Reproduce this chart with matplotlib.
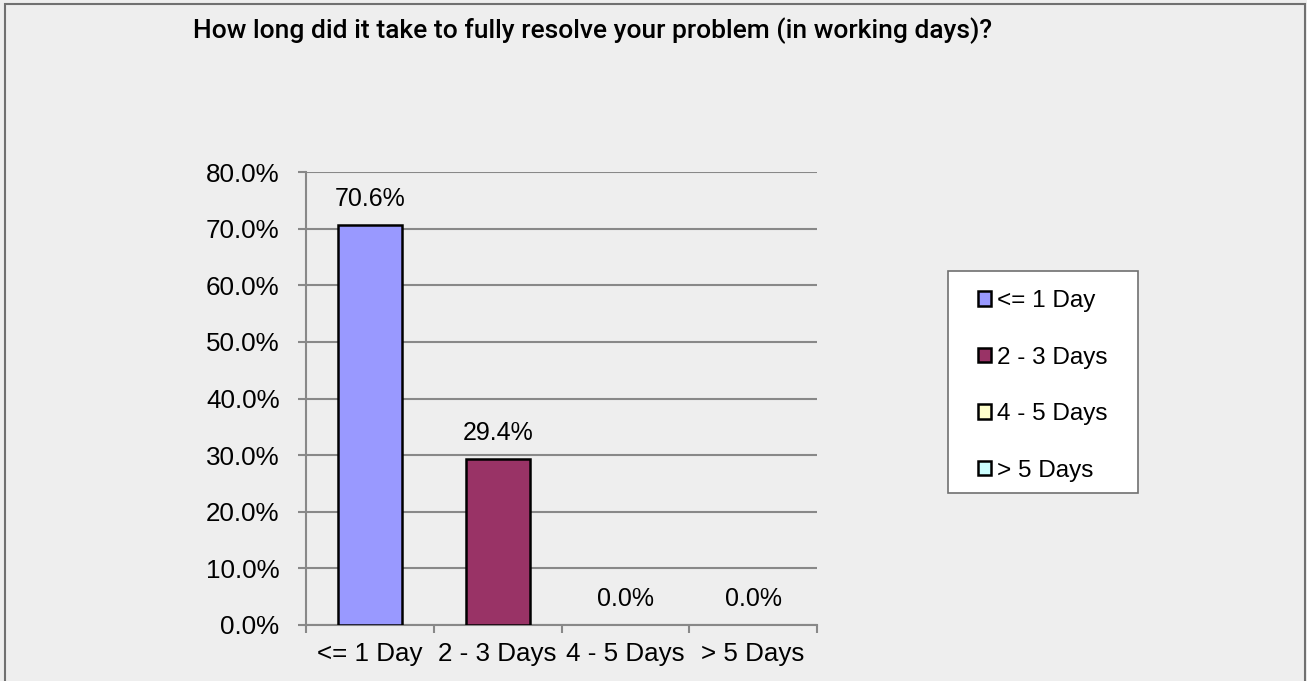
import matplotlib
matplotlib.use("Agg")
import matplotlib.pyplot as plt
from matplotlib.patches import Rectangle
from matplotlib.ticker import FuncFormatter

# survey answers
categories = ["<= 1 Day", "2 - 3 Days", "4 - 5 Days", "> 5 Days"]
shares = [0.706, 0.294, 0.0, 0.0]
colours = ["#9999FF", "#993366", "#FFFFCC", "#CCFFFF"]
yticks = [0.0, 0.1, 0.2, 0.3, 0.4, 0.5, 0.6, 0.7, 0.8]
title = "How long did it take to fully resolve your problem (in working days)?"

plt.rcParams['font.family'] = ['Liberation Sans', 'DejaVu Sans']

W, H = 1307, 681
fig = plt.figure(figsize=(W / 100, H / 100), dpi=100)
fig.patch.set_facecolor('#EEEEEE')

# outer frame
fig.patches.append(Rectangle((5/W, -0.01), 1300/W, 1 - 4/H + 0.01,
                             transform=fig.transFigure, fill=False,
                             edgecolor='#707070', lw=1.5, zorder=-1))
# legend box
fig.patches.append(Rectangle((948/W, 1 - 493/H), 190/W, 222/H,
                             transform=fig.transFigure, facecolor='white',
                             edgecolor='#707070', lw=1.2, zorder=-1))

ax = fig.add_axes([306/W, 1 - 625/H, 511/W, 453/H])
ax.set_facecolor('#EEEEEE')

bars = []
for i, (cat, val, col) in enumerate(zip(categories, shares, colours)):
    b = ax.bar(i, val, width=0.5, color=col, edgecolor='black', lw=1.8,
               label=cat, zorder=3)
    bars.append(b)
    ax.annotate("%.1f%%" % (val * 100), (i, val), xytext=(0, 10),
                textcoords='offset points', ha='center', va='bottom',
                fontsize=18)

ax.set_xlim(-0.5, 3.5)
ax.set_ylim(0, 0.8)
ax.set_yticks(yticks)
ax.yaxis.set_major_formatter(FuncFormatter(lambda v, p: "%.1f%%" % (v * 100)))
ax.set_xticks([-0.5, 0.5, 1.5, 2.5, 3.5])
ax.set_xticklabels([])
ax.set_xticks(range(4), minor=True)
ax.set_xticklabels(categories, minor=True, fontsize=18.7)
ax.tick_params(axis='x', which='minor', length=0, pad=12)
ax.tick_params(axis='x', which='major', length=6, width=1.5, color='#888888')
ax.tick_params(axis='y', length=6, width=1.5, color='#888888', labelsize=18.7, pad=13)
ax.yaxis.grid(True, color='#888888', lw=1.5, zorder=0)
for s in ['top', 'right']:
    ax.spines[s].set_visible(False)
for s in ['left', 'bottom']:
    ax.spines[s].set_color('#888888')
    ax.spines[s].set_linewidth(1.5)

fig.text(193/W, 1 - 31/H, title, fontsize=19, fontweight='medium',
         family=['Roboto', 'DejaVu Sans'], va='center', ha='left')

leg = ax.legend(loc='upper left', bbox_to_anchor=(978/W, 1 - 290/H),
                bbox_transform=fig.transFigure, fontsize=17.5, frameon=False,
                handlelength=0.55, handleheight=0.55,
                handletextpad=0.25, labelspacing=1.42, borderpad=0,
                borderaxespad=0)

# no outline on the empty bars (after legend so the handles keep theirs)
for b, val in zip(bars, shares):
    if val == 0:
        b[0].set_linewidth(0)

fig.savefig("out.png", dpi=100, facecolor=fig.get_facecolor())
